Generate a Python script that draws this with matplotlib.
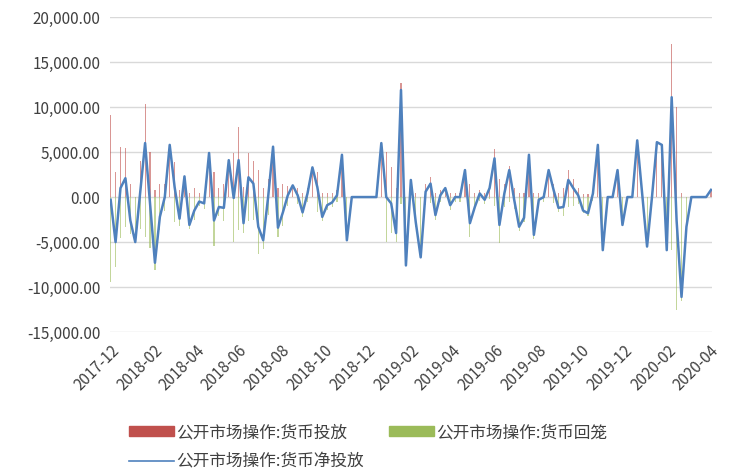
import numpy as np
import pandas as pd
import matplotlib
matplotlib.use("Agg")
import matplotlib.pyplot as plt
import matplotlib.dates as mdates
from matplotlib.patches import Patch
from matplotlib.lines import Line2D
from matplotlib.ticker import FuncFormatter

plt.rcParams['font.family'] = ['Noto Sans CJK SC', 'DejaVu Sans']

# weekly open market operations, 2017-12 .. 2020-04 (亿元)
net_injection = [
    -300, -5000, 1000, 2100, -2600, -5000, 500, 6000, -700, -7300,
    -2200, 0, 5800, 1100, -2400, 2300, -3100, -1500, -500, -700,
    4900, -2600, -1100, -1200, 4100, -100, 4100, -2900, 2200, 1500,
    -3300, -4800, 0, 5600, -3400, -1700, 200, 1300, 200, -1700,
    400, 3300, 1100, -2200, -900, -600, 200, 4700, -4800, 0,
    0, 0, 0, 0, 0, 6000, 0, -700, -4000, 11900,
    -7600, 1900, -2800, -6700, 600, 1500, -2000, 200, 1000, -900,
    0, 0, 3000, -2900, -1100, 400, -300, 1000, 4300, -3100,
    400, 3000, -300, -3300, -2300, 4700, -4200, -300, 0, 3000,
    800, -1200, -1100, 1900, 1000, 200, -1500, -1800, 400, 5800,
    -5900, 0, 0, 3000, -3100, 0, 0, 6300, 400, -5500,
    0, 6100, 5800, -5900, 11100, -2600, -11100, -3300, 0, 0,
    0, 0, 800,
]
injection = [
    9100, 2800, 5600, 5400, 1500, 0, 4000, 10400, 5000, 800,
    1500, 1500, 5800, 3900, 800, 2300, 500, 1000, 500, 600,
    4900, 2800, 1000, 1500, 4100, 4900, 7800, 1100, 4900, 4000,
    3000, 1000, 2000, 5600, 1000, 1500, 1200, 1300, 1000, 500,
    1000, 3300, 2800, 500, 500, 500, 800, 4700, 0, 0,
    0, 0, 0, 0, 0, 6000, 5000, 3300, 1000, 12700,
    0, 1900, 500, 0, 1500, 2200, 500, 800, 1000, 500,
    500, 500, 3000, 1500, 500, 800, 500, 1200, 5300, 2000,
    1500, 3500, 1000, 500, 500, 4700, 500, 500, 500, 3000,
    1500, 500, 1000, 3000, 2000, 1000, 300, 300, 800, 5800,
    0, 0, 0, 3000, 0, 0, 0, 6300, 800, 0,
    0, 6100, 5800, 0, 17000, 10000, 400, 0, 0, 0,
    0, 0, 800,
]
withdrawal = [n - i for n, i in zip(net_injection, injection)]
dates = pd.date_range('2017-12-01', periods=len(net_injection), freq='7D')

labels = ['公开市场操作:货币投放', '公开市场操作:货币回笼', '公开市场操作:货币净投放']
red = '#C0504D'
green = '#9BBB59'
blue = '#4F81BD'

fig = plt.figure(figsize=(7.33, 4.76), dpi=100)
ax = fig.add_axes([0.150, 0.3025, 0.821, 0.6615])

ax.bar(dates, injection, width=1.6, color=red, alpha=0.6, zorder=2)
ax.bar(dates, withdrawal, width=1.6, color=green, alpha=0.6, zorder=2)
ax.plot(dates, net_injection, color=blue, lw=1.8, zorder=3)

ax.set_ylim(-15000, 20000)
ax.set_yticks(np.arange(-15000, 20001, 5000))
ax.yaxis.set_major_formatter(FuncFormatter(lambda v, p: f'{v:,.2f}'))
ax.set_xlim(pd.Timestamp('2017-11-30'), pd.Timestamp('2020-04-04'))
ax.xaxis.set_major_locator(mdates.MonthLocator(bymonth=[2, 4, 6, 8, 10, 12]))
ax.xaxis.set_major_formatter(mdates.DateFormatter('%Y-%m'))
plt.setp(ax.get_xticklabels(), rotation=45, ha='right', rotation_mode='anchor')

ax.grid(axis='y', color='#D9D9D9', lw=1)
ax.set_axisbelow(True)
for s in ax.spines.values():
    s.set_visible(False)
ax.tick_params(length=0, labelsize=11, colors='#404040', pad=7)

handles = [Patch(color=red), Line2D([], [], color=blue, lw=1.2), Patch(color=green)]
fig.legend(handles, [labels[0], labels[2], labels[1]], ncol=2, frameon=False,
           loc='upper left', bbox_to_anchor=(0.155, 0.14),
           fontsize=12, handlelength=2.7, handleheight=0.55, handletextpad=0.15,
           columnspacing=1.5, labelspacing=0.75, labelcolor='#404040')

fig.savefig('out.png', dpi=100)
